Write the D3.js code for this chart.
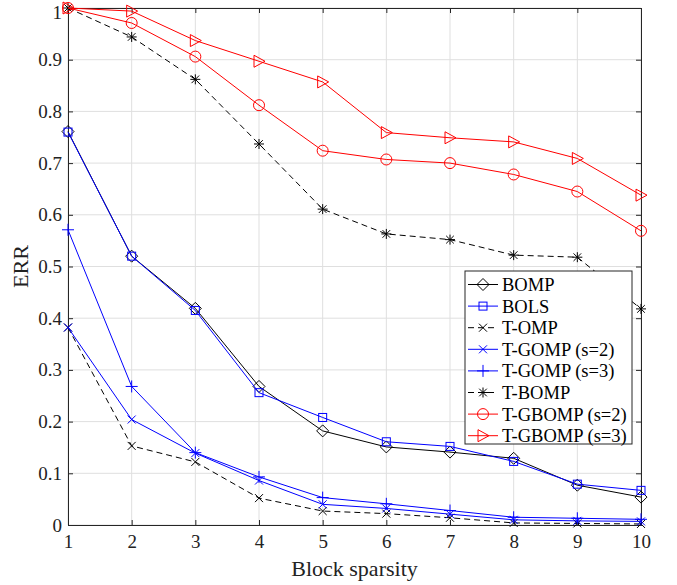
<!DOCTYPE html>
<html><head><meta charset="utf-8">
<script src="https://cdn.jsdelivr.net/npm/d3@7"></script>
<style>body{margin:0;background:#fff}svg{display:block}text{font-family:"Liberation Serif","Times New Roman",serif;}</style>
</head><body><svg id="c" width="677" height="585"></svg>
<script>
const sparsity = [1,2,3,4,5,6,7,8,9,10];
const xTicks = [1,2,3,4,5,6,7,8,9,10];
const yTicks = [0,0.1,0.2,0.3,0.4,0.5,0.6,0.7,0.8,0.9,1];
const bomp   = [0.761,0.520,0.419,0.268,0.182,0.151,0.141,0.129,0.077,0.054];
const bols   = [0.760,0.520,0.415,0.256,0.208,0.161,0.152,0.123,0.079,0.067];
const tomp   = [0.382,0.153,0.122,0.052,0.027,0.022,0.014,0.004,0.003,0.002];
const tgomp2 = [0.382,0.204,0.139,0.086,0.040,0.032,0.021,0.010,0.008,0.007];
const tgomp3 = [0.571,0.268,0.140,0.093,0.053,0.041,0.028,0.015,0.013,0.011];
const tbomp  = [1.000,0.944,0.862,0.737,0.611,0.563,0.552,0.522,0.518,0.418];
const tgbomp2= [1.000,0.971,0.906,0.812,0.724,0.707,0.700,0.678,0.645,0.569];
const tgbomp3= [1.000,0.994,0.937,0.897,0.857,0.759,0.749,0.741,0.709,0.638];

const series = [
 {name:"BOMP", data:bomp, color:"#000", dash:null, marker:"diamond"},
 {name:"BOLS", data:bols, color:"#0000ff", dash:null, marker:"square"},
 {name:"T-OMP", data:tomp, color:"#000", dash:"6,4", marker:"x"},
 {name:"T-GOMP (s=2)", data:tgomp2, color:"#0000ff", dash:null, marker:"x"},
 {name:"T-GOMP (s=3)", data:tgomp3, color:"#0000ff", dash:null, marker:"plus"},
 {name:"T-BOMP", data:tbomp, color:"#000", dash:"6,4", marker:"star"},
 {name:"T-GBOMP (s=2)", data:tgbomp2, color:"#ff0000", dash:null, marker:"circle"},
 {name:"T-GBOMP (s=3)", data:tgbomp3, color:"#ff0000", dash:null, marker:"tri"}
];

const svg = d3.select("#c");
const L=68,R=641,T=8,B=525;
const x = d3.scaleLinear().domain([1,10]).range([L,R]);
const y = d3.scaleLinear().domain([0,1]).range([B,T]);
const axc = "#262626";
const serif = '"Liberation Serif","Times New Roman",serif';

// grid
const g = svg.append("g");
g.selectAll(".gx").data(xTicks).enter().append("line")
 .attr("x1",d=>x(d)).attr("x2",d=>x(d)).attr("y1",T).attr("y2",B)
 .attr("stroke","#dfdfdf").attr("stroke-width",1);
g.selectAll(".gy").data(yTicks).enter().append("line")
 .attr("y1",d=>y(d)).attr("y2",d=>y(d)).attr("x1",L).attr("x2",R)
 .attr("stroke","#dfdfdf").attr("stroke-width",1);

// axes
const ax = svg.append("g").attr("transform",`translate(0,${B})`)
 .call(d3.axisBottom(x).tickValues(xTicks).tickSize(-5).tickPadding(10).tickFormat(d3.format("d")));
const ay = svg.append("g").attr("transform",`translate(${L},0)`)
 .call(d3.axisLeft(y).tickValues(yTicks).tickSize(-5).tickPadding(6).tickFormat(d=>d===0?"0":d===1?"1":d3.format(".1f")(d)));
const at = svg.append("g").attr("transform",`translate(0,${T})`)
 .call(d3.axisTop(x).tickValues(xTicks).tickSize(-5).tickFormat(""));
const ar = svg.append("g").attr("transform",`translate(${R},0)`)
 .call(d3.axisRight(y).tickValues(yTicks).tickSize(-5).tickFormat(""));
[ax,ay,at,ar].forEach(a=>{
 a.attr("font-family",serif);
 a.selectAll("path").attr("stroke",axc).attr("stroke-width",1);
 a.selectAll("line").attr("stroke",axc);
 a.selectAll("text").attr("fill","#222").style("font-size","19px").style("font-family",serif);
});
// keep the top "1" label inside the canvas
ay.selectAll(".tick").filter(d=>d===1).select("text").attr("dy","0.55em");

// line generator
const line = d3.line().x((d,i)=>x(sparsity[i])).y(d=>y(d));

function drawMarker(sel, type, color){
 const s = sel;
 if(type==="diamond"){ s.append("path").attr("d","M0,-6L6,0L0,6L-6,0Z").attr("fill","none").attr("stroke",color); }
 else if(type==="square"){ s.append("rect").attr("x",-4).attr("y",-4).attr("width",8).attr("height",8).attr("fill","none").attr("stroke",color); }
 else if(type==="x"){ s.append("path").attr("d","M-4,-4L4,4M-4,4L4,-4").attr("stroke",color); }
 else if(type==="plus"){ s.append("path").attr("d","M-6,0L6,0M0,-6L0,6").attr("stroke",color); }
 else if(type==="star"){ s.append("path").attr("d","M-5,0L5,0M0,-5L0,5M-3.8,-3.8L3.8,3.8M-3.8,3.8L3.8,-3.8").attr("stroke",color); }
 else if(type==="circle"){ s.append("circle").attr("r",5.5).attr("fill","none").attr("stroke",color); }
 else if(type==="tri"){ s.append("path").attr("d","M-5,-6L6,0L-5,6Z").attr("fill","none").attr("stroke",color); }
}

const plot = svg.append("g");
series.forEach(sr=>{
 plot.append("path").attr("d",line(sr.data)).attr("fill","none")
  .attr("stroke",sr.color).attr("stroke-width",1).attr("stroke-dasharray",sr.dash);
 sr.data.forEach((v,i)=>{
  const m = plot.append("g").attr("transform",`translate(${x(sparsity[i])},${y(v)})`).attr("stroke-width",1);
  drawMarker(m, sr.marker, sr.color);
 });
});

// legend
const lg = svg.append("g");
const lx=465, ly=271, lw=167, lh=173;
lg.append("rect").attr("x",lx).attr("y",ly).attr("width",lw).attr("height",lh)
 .attr("fill","#fff").attr("stroke",axc).attr("stroke-width",1);
series.forEach((sr,i)=>{
 const yy = ly+13.5+i*21.6;
 lg.append("line").attr("x1",lx+3).attr("x2",lx+33).attr("y1",yy).attr("y2",yy)
  .attr("stroke",sr.color).attr("stroke-width",1).attr("stroke-dasharray",sr.dash);
 const m = lg.append("g").attr("transform",`translate(${lx+18},${yy})`);
 drawMarker(m, sr.marker, sr.color);
 lg.append("text").attr("x",lx+37).attr("y",yy).attr("dy","0.35em")
  .style("font-size","18.5px").style("font-family",serif).attr("fill","#000").text(sr.name);
});

// axis labels
svg.append("text").attr("x",(L+R)/2).attr("y",576).attr("text-anchor","middle")
 .style("font-size","22px").style("font-family",serif).attr("fill","#222").text("Block sparsity");
svg.append("text").attr("transform",`translate(28,${(T+B)/2}) rotate(-90)`).attr("text-anchor","middle")
 .style("font-size","22px").style("font-family",serif).attr("fill","#222").text("ERR");
</script></body></html>
